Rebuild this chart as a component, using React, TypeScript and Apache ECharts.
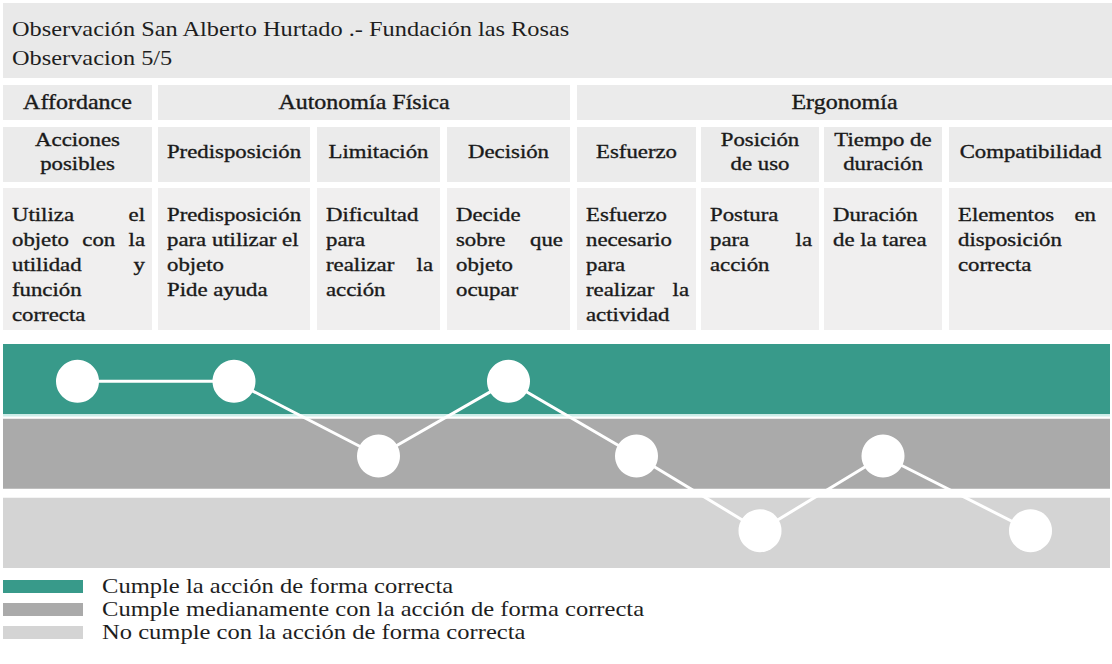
import React, { useEffect, useRef } from "react";
import * as echarts from "echarts";

// ---------------- data ----------------
const titleLines = [
  "Observación San Alberto Hurtado .- Fundación las Rosas",
  "Observacion 5/5",
];
const groups = ["Affordance", "Autonomía Física", "Ergonomía"];
const groupSpans = [1, 3, 4];
const criteria = [
  "Acciones\nposibles",
  "Predisposición",
  "Limitación",
  "Decisión",
  "Esfuerzo",
  "Posición\nde uso",
  "Tiempo de\nduración",
  "Compatibilidad",
];
const descriptions: string[][] = [
  ["Utiliza el", "objeto con la", "utilidad y", "función", "correcta"],
  ["Predisposición", "para utilizar el", "objeto", "Pide ayuda"],
  ["Dificultad", "para", "realizar la", "acción"],
  ["Decide", "sobre que", "objeto", "ocupar"],
  ["Esfuerzo", "necesario", "para", "realizar la", "actividad"],
  ["Postura", "para la", "acción"],
  ["Duración", "de la tarea"],
  ["Elementos en", "disposición", "correcta"],
];
// justified lines (column, line)
const justifiedLines: [number, number][] = [
  [0, 0], [0, 1], [0, 2], [2, 2], [3, 1], [4, 3], [5, 1], [7, 0],
];
// level reached per criterion: 3 = cumple, 2 = medianamente, 1 = no cumple
const levels = [3, 3, 2, 3, 2, 1, 2, 1];
const levelValues = [3, 2, 1];
const levelNames = [
  "Cumple la acción de forma correcta",
  "Cumple medianamente con la acción de forma correcta",
  "No cumple con la acción de forma correcta",
];

// ---------------- layout / style ----------------
const W = 1112;
const H = 664;
const colLeft = [3, 158, 317, 447, 577, 701, 824, 949];
const colRight = [152, 310, 440, 570, 696, 819, 942, 1112];
const levelColors = ["#389a8a", "#aaaaaa", "#d4d4d4"];
const bandRanges: [number, number][] = [
  [2.56, 3.5],
  [1.56, 2.5],
  [0.5, 1.44],
];
const FAMILY = "Liberation Serif";
const TEXT_COLOR = "#1e1e1e";
const TABLE_COLOR = "#1a1a1a";
const CELL_BG = "#ebebeb";
const DESC_BG = "#f0efef";
const TABLE_SX = 1.2;
const TABLE_FS = 19;
const GROUP_FS = 20;
const HEAVY = { fill: TABLE_COLOR, stroke: TABLE_COLOR, lineWidth: 0.35 };

function textEl(text: string, x: number, y: number, size: number, sx: number, align = "left", extra: any = {}) {
  return {
    type: "text",
    x,
    y,
    scaleX: sx,
    silent: true,
    style: {
      text,
      x: 0,
      y: 0,
      fontSize: size,
      fontFamily: FAMILY,
      fill: TEXT_COLOR,
      align,
      verticalAlign: "middle",
      ...extra,
    },
  };
}

function buildGraphics() {
  const els: any[] = [];
  const canvas = document.createElement("canvas");
  const ctx = canvas.getContext("2d")!;

  // title box
  els.push({ type: "rect", shape: { x: 3, y: 3, width: W - 3, height: 75 }, style: { fill: "#e9e9e9" }, silent: true });
  titleLines.forEach((t, i) => {
    els.push(textEl(t, 12, 29 + i * 29, 21, 1.16));
  });

  // group row
  let c = 0;
  groups.forEach((g, gi) => {
    const first = c;
    const last = c + groupSpans[gi] - 1;
    c += groupSpans[gi];
    const x0 = colLeft[first];
    const x1 = colRight[last];
    els.push({ type: "rect", shape: { x: x0, y: 85, width: x1 - x0, height: 35 }, style: { fill: CELL_BG }, silent: true });
    els.push(textEl(g, (x0 + x1) / 2, 102, GROUP_FS, TABLE_SX, "center", HEAVY));
  });

  // criteria row
  criteria.forEach((cr, i) => {
    const x0 = colLeft[i];
    const x1 = colRight[i];
    els.push({ type: "rect", shape: { x: x0, y: 127, width: x1 - x0, height: 55 }, style: { fill: CELL_BG }, silent: true });
    els.push(textEl(cr, (x0 + x1) / 2, 152, TABLE_FS, TABLE_SX, "center", { lineHeight: 24, ...HEAVY }));
  });

  // description row
  ctx.font = `${TABLE_FS}px "${FAMILY}"`;
  descriptions.forEach((lines, i) => {
    const x0 = colLeft[i];
    const x1 = colRight[i];
    els.push({ type: "rect", shape: { x: x0, y: 188, width: x1 - x0, height: 142 }, style: { fill: DESC_BG }, silent: true });
    const padL = 9;
    const padR = i === colLeft.length - 1 ? 16 : 7;
    lines.forEach((ln, li) => {
      const y = 215 + li * 25;
      const isJ = justifiedLines.some(([a, b]) => a === i && b === li);
      const words = ln.split(" ");
      if (isJ && words.length > 1) {
        const widths = words.map((w) => ctx.measureText(w).width * TABLE_SX);
        const total = widths.reduce((s, v) => s + v, 0);
        const avail = x1 - padR - (x0 + padL);
        const gap = (avail - total) / (words.length - 1);
        let x = x0 + padL;
        words.forEach((w, wi) => {
          els.push(textEl(w, x, y, TABLE_FS, TABLE_SX, "left", HEAVY));
          x += widths[wi] + gap;
        });
      } else {
        els.push(textEl(ln, x0 + padL, y, TABLE_FS, TABLE_SX, "left", HEAVY));
      }
    });
  });

  // legend
  levelNames.forEach((name, i) => {
    const y = 586 + i * 23;
    els.push({ type: "rect", shape: { x: 3, y: y - 6, width: 80, height: 13 }, style: { fill: levelColors[i] }, silent: true });
    els.push(textEl(name, 102, y, 21, 1.17));
  });
  return els;
}

export default function App() {
  const ref = useRef<HTMLDivElement>(null);
  useEffect(() => {
    document.body.style.margin = "0";
    const chart = echarts.init(ref.current!, null, { renderer: "svg" });
    const centers = colLeft.map((l, i) => (l + colRight[i]) / 2);
    const bandAreas: any[] = levelValues.map((lv, i) => [
      { xAxis: 3, yAxis: bandRanges[i][1], itemStyle: { color: levelColors[i] } },
      { xAxis: 1110, yAxis: bandRanges[i][0] },
    ]);
    bandAreas.push([
      { xAxis: 3, yAxis: 2.56, itemStyle: { color: "#cdeee9" } },
      { xAxis: 1110, yAxis: 2.53 },
    ]);
    chart.setOption({
      animation: false,
      backgroundColor: "#ffffff",
      grid: { left: 0, right: 0, top: 344, height: 224 },
      xAxis: { type: "value", min: 0, max: W, show: false },
      yAxis: { type: "value", min: 0.5, max: 3.5, show: false },
      graphic: { elements: buildGraphics() },
      series: [
        {
          type: "line",
          data: levels.map((v, i) => [centers[i], v]),
          symbol: "circle",
          symbolSize: 43,
          showSymbol: true,
          itemStyle: { color: "#ffffff", borderWidth: 0 },
          lineStyle: { color: "#ffffff", width: 3 },
          silent: true,
          z: 5,
          markArea: { silent: true, data: bandAreas, z: 1 },
        },
      ],
    });
    return () => chart.dispose();
  }, []);
  return (
    <div style={{ position: "absolute", left: 0, top: 0, width: W, height: H, background: "#fff" }}>
      <div ref={ref} style={{ width: W, height: H }} />
    </div>
  );
}
